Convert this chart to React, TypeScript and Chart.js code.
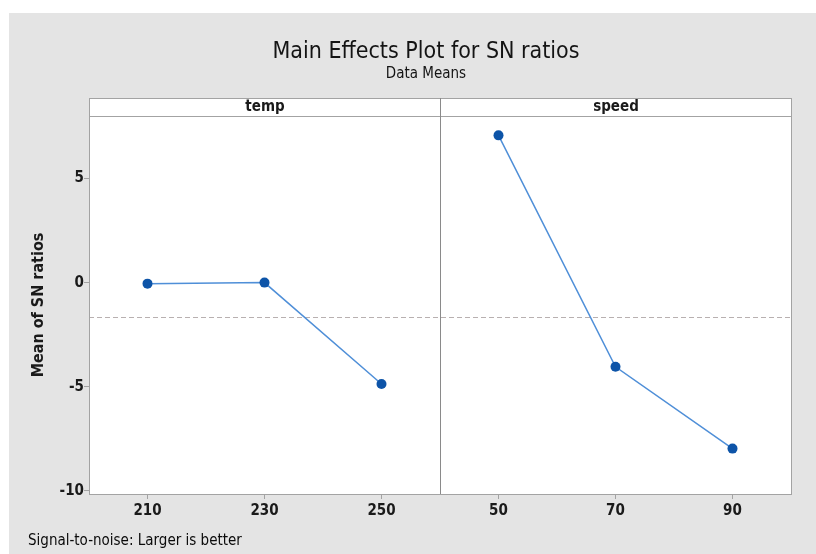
import React, { useEffect, useRef } from "react";
import { Chart, registerables } from "chart.js";

Chart.register(...registerables);

const tempLevels = ["210", "230", "250"];
const tempMeans = [-0.05, 0.0, -4.87];
const speedLevels = ["50", "70", "90"];
const speedMeans = [7.07, -4.04, -7.97];
const yTicks = [-10, -5, 0, 5];
const panelNames = ["temp", "speed"];
const titleText = "Main Effects Plot for SN ratios";
const subtitleText = "Data Means";
const footerText = "Signal-to-noise: Larger is better";
const yTitle = "Mean of SN ratios";

const FONT = "'Liberation Sans Narrow', 'DejaVu Sans Condensed', sans-serif";
const W = 807;
const H = 541;

export default function App() {
  const ref = useRef<HTMLCanvasElement>(null);

  useEffect(() => {
    const canvas = ref.current;
    if (!canvas) return;
    const labels = [...tempLevels, ...speedLevels];
    const all = [...tempMeans, ...speedMeans];
    const grandMean = all.reduce((a, b) => a + b, 0) / all.length;
    const pad = (arr: number[], before: number, after: number) => [
      ...Array(before).fill(null),
      ...arr,
      ...Array(after).fill(null),
    ];

    const gridColor = "#a3a3a3";
    const stripTop = 85;

    const overlay = {
      id: "overlay",
      beforeDraw(chart: any) {
        const { ctx, chartArea: a } = chart;
        ctx.save();
        ctx.fillStyle = "#e4e4e4";
        ctx.fillRect(0, 0, chart.width, chart.height);
        ctx.fillStyle = "#ffffff";
        ctx.fillRect(a.left, a.top, a.right - a.left, a.bottom - a.top);
        ctx.restore();
      },
      beforeDatasetsDraw(chart: any) {
        const { ctx, chartArea: a, scales } = chart;
        const y = Math.round(scales.y.getPixelForValue(grandMean)) + 0.5;
        ctx.save();
        ctx.strokeStyle = "#b8b0b0";
        ctx.lineWidth = 1;
        ctx.setLineDash([5, 3]);
        ctx.beginPath();
        ctx.moveTo(a.left, y);
        ctx.lineTo(a.right, y);
        ctx.stroke();
        ctx.restore();
      },
      afterDraw(chart: any) {
        const { ctx, chartArea: a, scales } = chart;
        const xs = scales.x;
        const divX =
          Math.round((xs.getPixelForValue(2) + xs.getPixelForValue(3)) / 2) + 0.5;
        ctx.save();
        // plot border
        ctx.strokeStyle = gridColor;
        ctx.lineWidth = 1;
        ctx.strokeRect(
          Math.round(a.left) + 0.5,
          Math.round(a.top) + 0.5,
          Math.round(a.right - a.left),
          Math.round(a.bottom - a.top)
        );
        // strips
        const panels = [
          [Math.round(a.left) + 0.5, divX],
          [divX, Math.round(a.right) + 0.5],
        ];
        panels.forEach(([l, r], i) => {
          ctx.fillStyle = "#ffffff";
          ctx.fillRect(l, stripTop + 0.5, r - l, Math.round(a.top) - stripTop);
          ctx.strokeStyle = gridColor;
          ctx.strokeRect(l, stripTop + 0.5, r - l, Math.round(a.top) - stripTop);
          ctx.fillStyle = "#1a1a1a";
          ctx.font = `bold 15px ${FONT}`;
          ctx.textAlign = "center";
          ctx.textBaseline = "middle";
          ctx.fillText(panelNames[i], (l + r) / 2, (stripTop + a.top) / 2);
        });
        // divider
        ctx.strokeStyle = "#8a8a8a";
        ctx.beginPath();
        ctx.moveTo(divX, stripTop);
        ctx.lineTo(divX, a.bottom);
        ctx.stroke();
        // titles
        ctx.fillStyle = "#141414";
        ctx.textAlign = "center";
        ctx.textBaseline = "middle";
        ctx.font = `23px ${FONT}`;
        ctx.fillText(titleText, 417, 39);
        ctx.font = `15px ${FONT}`;
        ctx.fillText(subtitleText, 417, 61);
        // footer
        ctx.textAlign = "left";
        ctx.fillStyle = "#0a0a0a";
        ctx.font = `15px ${FONT}`;
        ctx.fillText(footerText, 19, 528);
        ctx.restore();
      },
    };

    const chart = new Chart(canvas, {
      type: "line",
      data: {
        labels,
        datasets: [
          {
            label: panelNames[0],
            data: pad(tempMeans, 0, speedLevels.length),
          },
          {
            label: panelNames[1],
            data: pad(speedMeans, tempLevels.length, 0),
          },
        ].map((d) => ({
          ...d,
          borderColor: "#4f8fd8",
          borderWidth: 1.5,
          pointRadius: 5,
          pointBackgroundColor: "#0d54a8",
          pointBorderColor: "#0d54a8",
          pointBorderWidth: 0,
          spanGaps: false,
          tension: 0,
        })),
      },
      options: {
        responsive: false,
        animation: false,
        devicePixelRatio: 1,
        layout: { padding: { top: 103, right: 25, bottom: 30, left: 0 } },
        plugins: {
          legend: { display: false },
          tooltip: { enabled: false },
        },
        scales: {
          x: {
            type: "category",
            offset: true,
            grid: {
              drawOnChartArea: false,
              drawTicks: true,
              tickLength: 5,
              color: gridColor,
              offset: false,
            },
            border: { color: gridColor },
            ticks: {
              color: "#1a1a1a",
              font: { family: FONT, size: 15, weight: "bold" },
              padding: 3,
              maxRotation: 0,
              autoSkip: false,
            },
            afterFit(scale: any) {
              scale.height = 30;
            },
          },
          y: {
            type: "linear",
            min: -10.15,
            max: 8,
            afterBuildTicks(scale: any) {
              scale.ticks = yTicks.map((v) => ({ value: v }));
            },
            afterFit(scale: any) {
              scale.width = 80;
            },
            grid: {
              drawOnChartArea: false,
              drawTicks: true,
              tickLength: 5,
              color: gridColor,
            },
            border: { color: gridColor },
            ticks: {
              color: "#1a1a1a",
              font: { family: FONT, size: 15, weight: "bold" },
              padding: 0,
            },
            title: {
              display: true,
              text: yTitle,
              color: "#1a1a1a",
              font: { family: FONT, size: 16, weight: "bold" },
              padding: { top: 20, bottom: 0 },
            },
          },
        },
      },
      plugins: [overlay],
    } as any);

    return () => chart.destroy();
  }, []);

  return (
    <div style={{ position: "fixed", left: 9, top: 13, width: W, height: H }}>
      <canvas ref={ref} width={W} height={H} style={{ width: W, height: H, display: "block" }} />
    </div>
  );
}
